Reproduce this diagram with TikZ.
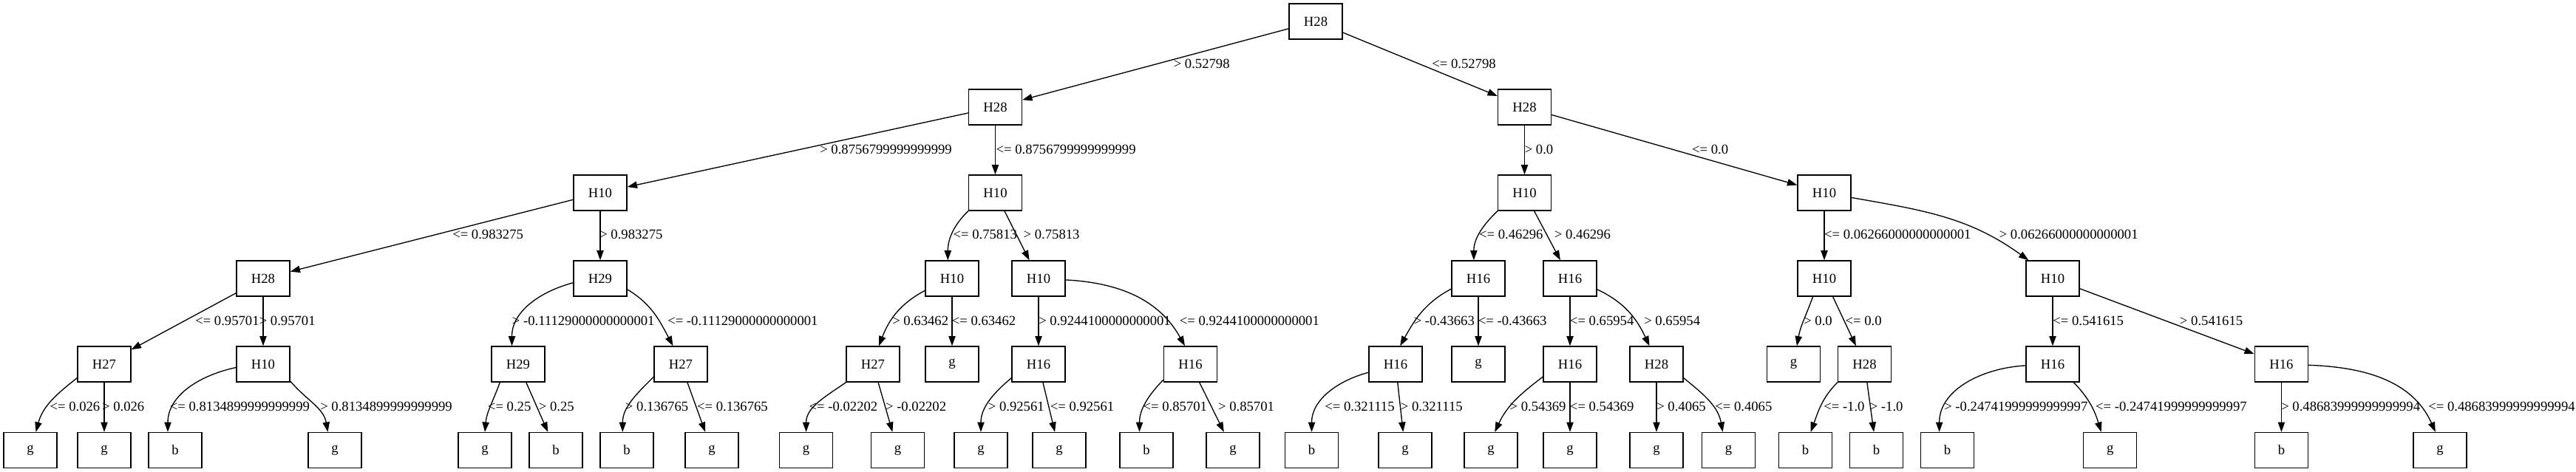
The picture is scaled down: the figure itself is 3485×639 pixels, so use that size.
\documentclass[tikz,border=0pt]{standalone}
\usepackage{fontspec}
\setmainfont{Liberation Serif}
\usetikzlibrary{arrows.meta}
\tikzset{
  box/.style={draw, line width=1pt, minimum width=54pt, minimum height=36pt, inner sep=0pt, font=\fontsize{14pt}{16pt}\selectfont},
  lbl/.style={anchor=west, inner sep=0pt, font=\fontsize{14pt}{16pt}\selectfont},
  edge/.style={line width=1pt, -{Triangle[length=10pt,width=7pt]}},
}
\begin{document}
\begin{tikzpicture}[x=0.75pt, y=-0.75pt]
  \useasboundingbox (0,0) rectangle (3485,639);
  % rank 0 and 1
  \node[box] (n0) at (1780,29) {H28};
  \node[box] (n1a) at (1346.5,145) {H28};
  \node[box] (n1b) at (2062.5,145) {H28};
  % rank 2
  \node[box] (n2a) at (812,261) {H10};
  \node[box] (n2b) at (1346.5,261) {H10};
  \node[box] (n2c) at (2062.5,261) {H10};
  \node[box] (n2d) at (2468,261) {H10};
  % rank 3
  \node[box] (n3a) at (356,377) {H28};
  \node[box] (n3b) at (812,377) {H29};
  \node[box] (n3c) at (1288,377) {H10};
  \node[box] (n3d) at (1405,377) {H10};
  \node[box] (n3e) at (2000,377) {H16};
  \node[box] (n3f) at (2124,377) {H16};
  \node[box] (n3g) at (2468,377) {H10};
  \node[box] (n3h) at (2777,377) {H10};
  % rank 4
  \node[box] (n4a) at (141,493) {H27};
  \node[box] (n4b) at (356,493) {H10};
  \node[box] (n4c) at (701,493) {H29};
  \node[box] (n4d) at (921,493) {H27};
  \node[box] (n4e) at (1181,493) {H27};
  \node[box] (n4f) at (1288,493) {g};
  \node[box] (n4g) at (1405,493) {H16};
  \node[box] (n4h) at (1610.5,493) {H16};
  \node[box] (n4i) at (1888,493) {H16};
  \node[box] (n4j) at (2000,493) {g};
  \node[box] (n4k) at (2124,493) {H16};
  \node[box] (n4l) at (2241,493) {H28};
  \node[box] (n4m) at (2426.6,493) {g};
  \node[box] (n4n) at (2522.5,493) {H28};
  \node[box] (n4o) at (2777,493) {H16};
  \node[box] (n4p) at (3086.4,493) {H16};
  % leaves
  \node[box] (n5a) at (41,609.5) {g};
  \node[box] (n5b) at (141,609.5) {g};
  \node[box] (n5c) at (237,609.5) {b};
  \node[box] (n5d) at (453,609.5) {g};
  \node[box] (n5e) at (656,609.5) {g};
  \node[box] (n5f) at (752,609.5) {b};
  \node[box] (n5g) at (848,609.5) {b};
  \node[box] (n5h) at (963,609.5) {g};
  \node[box] (n5i) at (1090.6,609.5) {g};
  \node[box] (n5j) at (1214.5,609.5) {g};
  \node[box] (n5k) at (1327,609.5) {g};
  \node[box] (n5l) at (1433,609.5) {g};
  \node[box] (n5m) at (1551,609.5) {b};
  \node[box] (n5n) at (1668,609.5) {g};
  \node[box] (n5o) at (1774.5,609.5) {b};
  \node[box] (n5p) at (1901,609.5) {g};
  \node[box] (n5q) at (2017,609.5) {g};
  \node[box] (n5r) at (2124,609.5) {g};
  \node[box] (n5s) at (2241,609.5) {g};
  \node[box] (n5t) at (2338.6,609.5) {g};
  \node[box] (n5u) at (2442.6,609.5) {b};
  \node[box] (n5v) at (2538.4,609.5) {b};
  \node[box] (n5w) at (2634.6,609.5) {b};
  \node[box] (n5x) at (2854.7,609.5) {g};
  \node[box] (n5y) at (3086.4,609.5) {b};
  \node[box] (n5z) at (3301,609.5) {g};
  % edges, rank 0-2
  \draw[edge] (n0) -- (n1a);
  \draw[edge] (n0) -- (n1b);
  \draw[edge] (n1a) -- (n2a);
  \draw[edge] (n1a) -- (n2b);
  \draw[edge] (n1b) -- (n2c);
  \draw[edge] (n1b) -- (n2d);
  \draw[edge] (n2a) -- (n3a);
  \draw[edge] (n2a) -- (n3b);
  \draw[edge] (n2b.214) to[out=224,in=90] (n3c.103);
  \draw[edge] (n2b) -- (n3d);
  \draw[edge] (n2c.214) to[out=224,in=90] (n3e.104);
  \draw[edge] (n2c) -- (n3f);
  \draw[edge] (n2d) -- (n3g);
  \draw[edge] (n2d.-10) to[out=-10,in=144] (n3h.143);
  % edges, rank 3
  \draw[edge] (n3a) -- (n4a);
  \draw[edge] (n3a) -- (n4b);
  \draw[edge] (n3b.189) to[out=195,in=90] (n4c.109);
  \draw[edge] (n3b.-22) to[out=-31,in=118] (n4d.113);
  \draw[edge] (n3c.204) to[out=208,in=69] (n4e.72);
  \draw[edge] (n3c) -- (n4f);
  \draw[edge] (n3d) -- (n4g);
  \draw[edge] (n3d.-3) to[out=-3,in=119] (n4h.107);
  \draw[edge] (n3e.201) to[out=208,in=61] (n4i.76);
  \draw[edge] (n3e) -- (n4j);
  \draw[edge] (n3f) -- (n4k);
  \draw[edge] (n3f.-22) to[out=-25,in=115] (n4l.111);
  \draw[edge] (n3g.238) to[out=250,in=80] (n4m.80);
  \draw[edge] (n3g) -- (n4n);
  \draw[edge] (n3h) -- (n4o);
  \draw[edge] (n3h) -- (n4p);
  % edges, rank 4
  \draw[edge] (n4a.207) to[out=218,in=75] (n5a.73);
  \draw[edge] (n4a) -- (n5b);
  \draw[edge] (n4b.187) to[out=192,in=90] (n5c.112);
  \draw[edge] (n4b.-32) to[out=-50,in=100] (n5d.111);
  \draw[edge] (n4c.225) to[out=250,in=85] (n5e.north);
  \draw[edge] (n4c) -- (n5f);
  \draw[edge] (n4d.205) to[out=225,in=90] (n5g.103);
  \draw[edge] (n4d) -- (n5h);
  \draw[edge] (n4e.214) to[out=215,in=90] (n5i.north);
  \draw[edge] (n4e) -- (n5j);
  \draw[edge] (n4g.207) to[out=220,in=90] (n5k.north);
  \draw[edge] (n4g) -- (n5l);
  \draw[edge] (n4h.210) to[out=226,in=90] (n5m.111);
  \draw[edge] (n4h) -- (n5n);
  \draw[edge] (n4i.197) to[out=195,in=90] (n5o.north);
  \draw[edge] (n4i) -- (n5p);
  \draw[edge] (n4k.205) to[out=217,in=65] (n5q.78);
  \draw[edge] (n4k) -- (n5r);
  \draw[edge] (n4l) -- (n5s);
  \draw[edge] (n4l.-27) to[out=-39,in=100] (n5t.108);
  \draw[edge] (n4n.214) to[out=225,in=70] (n5u.74);
  \draw[edge] (n4n) -- (n5v);
  \draw[edge] (n4o.183) to[out=183,in=90] (n5w.114);
  \draw[edge] (n4o.-41) to[out=-46,in=107] (n5x.116);
  \draw[edge] (n4p) -- (n5y);
  \draw[edge] (n4p.-2) to[out=-2,in=114] (n5z.104);
  % edge labels
  \node[lbl] (l1a) at (1587.5,86) {> 0.52798};
  \node[lbl] (l1b) at (1937,86) {<= 0.52798};
  \node[lbl] (l2a) at (1109,202) {> 0.8756799999999999};
  \node[lbl] (l2b) at (1347.3,202) {<= 0.8756799999999999};
  \node[lbl] (l2c) at (2062.5,202) {> 0.0};
  \node[lbl] (l2d) at (2288.8,202) {<= 0.0};
  \node[lbl] (l3a) at (612,317) {<= 0.983275};
  \node[lbl] (l3b) at (811,317) {> 0.983275};
  \node[lbl] (l3c) at (1289.3,317) {<= 0.75813};
  \node[lbl] (l3d) at (1384.4,317) {> 0.75813};
  \node[lbl] (l3e) at (2000.9,317) {<= 0.46296};
  \node[lbl] (l3f) at (2102.7,317) {> 0.46296};
  \node[lbl] (l3g) at (2467.9,317) {<= 0.06266000000000001};
  \node[lbl] (l3h) at (2704.5,317) {> 0.06266000000000001};
  \node[lbl] (l4a) at (264,434) {<= 0.95701};
  \node[lbl] (l4b) at (350.5,434) {> 0.95701};
  \node[lbl] (l4c) at (692.6,434) {> -0.11129000000000001};
  \node[lbl] (l4d) at (903,434) {<= -0.11129000000000001};
  \node[lbl] (l4e) at (1207,434) {> 0.63462};
  \node[lbl] (l4f) at (1287.5,434) {<= 0.63462};
  \node[lbl] (l4g) at (1405,434) {> 0.9244100000000001};
  \node[lbl] (l4h) at (1595.5,434) {<= 0.9244100000000001};
  \node[lbl] (l4i) at (1912.5,434) {> -0.43663};
  \node[lbl] (l4j) at (1999.6,434) {<= -0.43663};
  \node[lbl] (l4k) at (2123.7,434) {<= 0.65954};
  \node[lbl] (l4l) at (2224,434) {> 0.65954};
  \node[lbl] (l4m) at (2440,434) {> 0.0};
  \node[lbl] (l4n) at (2496.4,434) {<= 0.0};
  \node[lbl] (l4o) at (2777,434) {<= 0.541615};
  \node[lbl] (l4p) at (2948.7,434) {> 0.541615};
  \node[lbl] (l5a) at (67.3,550) {<= 0.026};
  \node[lbl] (l5b) at (137.8,550) {> 0.026};
  \node[lbl] (l5c) at (229.6,550) {<= 0.8134899999999999};
  \node[lbl] (l5d) at (433,550) {> 0.8134899999999999};
  \node[lbl] (l5e) at (659.7,550) {<= 0.25};
  \node[lbl] (l5f) at (728.6,550) {> 0.25};
  \node[lbl] (l5g) at (845.7,550) {> 0.136765};
  \node[lbl] (l5h) at (942.8,550) {<= 0.136765};
  \node[lbl] (l5i) at (1094.4,550) {<= -0.02202};
  \node[lbl] (l5j) at (1197.8,550) {> -0.02202};
  \node[lbl] (l5k) at (1336.6,550) {> 0.92561};
  \node[lbl] (l5l) at (1420.5,550) {<= 0.92561};
  \node[lbl] (l5m) at (1546.4,550) {<= 0.85701};
  \node[lbl] (l5n) at (1647.8,550) {> 0.85701};
  \node[lbl] (l5o) at (1792,550) {<= 0.321115};
  \node[lbl] (l5p) at (1894.6,550) {> 0.321115};
  \node[lbl] (l5q) at (2042.4,550) {> 0.54369};
  \node[lbl] (l5r) at (2123.7,550) {<= 0.54369};
  \node[lbl] (l5s) at (2241,550) {> 0.4065};
  \node[lbl] (l5t) at (2320,550) {<= 0.4065};
  \node[lbl] (l5u) at (2467,550) {<= -1.0};
  \node[lbl] (l5v) at (2529.5,550) {> -1.0};
  \node[lbl] (l5w) at (2630,550) {> -0.24741999999999997};
  \node[lbl] (l5x) at (2834.8,550) {<= -0.24741999999999997};
  \node[lbl] (l5y) at (3086,550) {> 0.48683999999999994};
  \node[lbl] (l5z) at (3285,550) {<= 0.48683999999999994};
\end{tikzpicture}
\end{document}
